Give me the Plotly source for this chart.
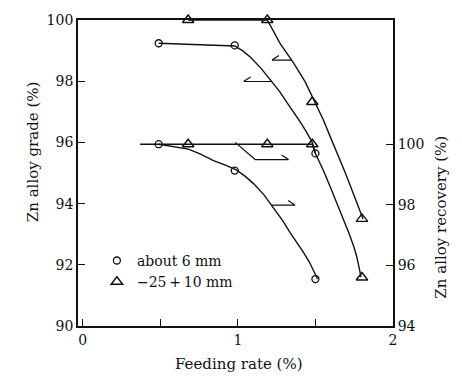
import plotly.graph_objects as go

feed_circle = [0.49, 0.98, 1.50]
grade_circle = [99.24, 99.17, 95.64]
recov_circle = [100.0, 99.13, 95.55]

feed_tri = [0.68, 1.19, 1.48, 1.80]
grade_tri = [100.0, 100.0, 97.32, 93.50]
recov_tri = [100.0, 100.0, 100.0, 95.60]

# ---- hand-drawn fitted curves ----
fit_grade_circle_x = [0.49, 0.98, 1.03, 1.08, 1.15, 1.22, 1.27, 1.317, 1.36, 1.403, 1.44, 1.478, 1.499]
fit_grade_circle_y = [99.24, 99.15, 99.00, 98.79, 98.42, 97.99, 97.66, 97.30, 97.00, 96.66, 96.36, 96.02, 95.66]

fit_grade_tri_x = [0.68, 1.19, 1.274, 1.359, 1.435, 1.499, 1.55, 1.596, 1.645, 1.693, 1.73, 1.768, 1.807]
fit_grade_tri_y = [100.0, 100.0, 99.22, 98.60, 97.97, 97.30, 96.75, 96.18, 95.60, 95.00, 94.52, 94.04, 93.50]

fit_recov_tri_x = [0.37, 0.68, 1.19, 1.48, 1.499, 1.55, 1.596, 1.64, 1.682, 1.715, 1.746, 1.765, 1.779, 1.794]
fit_recov_tri_y = [100.0, 100.0, 100.0, 100.0, 99.70, 99.15, 98.59, 98.05, 97.51, 97.08, 96.64, 96.32, 95.99, 95.61]

fit_recov_circle_x = [0.49, 0.58, 0.682, 0.76, 0.843, 0.92, 0.99, 1.05, 1.101, 1.17, 1.23, 1.29, 1.338, 1.38, 1.424, 1.46, 1.488, 1.514]
fit_recov_circle_y = [100.0, 99.92, 99.84, 99.67, 99.46, 99.31, 99.15, 98.93, 98.70, 98.32, 97.89, 97.47, 97.07, 96.76, 96.42, 96.12, 95.83, 95.55]

# axis-indicator arrows (left-axis units): path points, head at last point
arrow_paths = [
    [(1.349, 98.69), (1.22, 98.69)],
    [(1.22, 97.99), (1.037, 97.99)],
    [(0.983, 96.0), (1.112, 95.44), (1.327, 95.44)],
    [(1.22, 93.95), (1.37, 93.95)],
]

legend_names = ["about 6 mm", "\u221225\u2009+\u200910 mm"]
x_ticks = [0, 1, 2]
y_ticks = [90, 92, 94, 96, 98, 100]
y2_ticks = [94, 96, 98, 100]

FONT = "DejaVu Serif"
BLACK = "#111"

fig = go.Figure()

line_style = dict(color=BLACK, width=1.4, shape="linear")

fig.add_trace(go.Scatter(x=fit_grade_circle_x, y=fit_grade_circle_y, mode="lines",
                         line=line_style, showlegend=False, hoverinfo="skip"))
fig.add_trace(go.Scatter(x=fit_grade_tri_x, y=fit_grade_tri_y, mode="lines",
                         line=line_style, showlegend=False, hoverinfo="skip", cliponaxis=False))
fig.add_trace(go.Scatter(x=fit_recov_tri_x, y=fit_recov_tri_y, mode="lines", yaxis="y2",
                         line=line_style, showlegend=False, hoverinfo="skip"))
fig.add_trace(go.Scatter(x=fit_recov_circle_x, y=fit_recov_circle_y, mode="lines", yaxis="y2",
                         line=line_style, showlegend=False, hoverinfo="skip"))

circ = dict(symbol="circle-open", size=7, color=BLACK, line=dict(width=1.3, color=BLACK))
tri = dict(symbol="triangle-up-open", size=10, color=BLACK, line=dict(width=1.4, color=BLACK))

fig.add_trace(go.Scatter(x=feed_circle, y=grade_circle, mode="markers", marker=circ,
                         name=legend_names[0], cliponaxis=False))
fig.add_trace(go.Scatter(x=feed_tri, y=grade_tri, mode="markers", marker=tri,
                         name=legend_names[1], cliponaxis=False))
fig.add_trace(go.Scatter(x=feed_circle, y=recov_circle, mode="markers", marker=circ,
                         yaxis="y2", showlegend=False, cliponaxis=False))
fig.add_trace(go.Scatter(x=feed_tri, y=recov_tri, mode="markers", marker=tri,
                         yaxis="y2", showlegend=False, cliponaxis=False))

shapes = []
for pts in arrow_paths:
    d = "M " + " L ".join(f"{x},{y}" for x, y in pts)
    (hx, hy), (px, py) = pts[-1], pts[-2]
    direction = 1 if hx > px else -1
    d += f" M {hx},{hy} L {hx - direction * 0.045},{hy + 0.15}"
    shapes.append(dict(type="path", path=d, xref="x", yref="y",
                       line=dict(color=BLACK, width=1.2)))

fig.update_layout(
    width=462, height=380,
    margin=dict(l=78, r=69, t=14, b=54),
    paper_bgcolor="white", plot_bgcolor="white",
    font=dict(family=FONT, size=14, color=BLACK),
    shapes=shapes,
    xaxis=dict(range=[-0.03, 2.0], tickvals=x_ticks, ticks="inside", ticklen=7,
               tickwidth=1.3, tickcolor=BLACK,
               minor=dict(dtick=0.5, tick0=0, ticks="inside", ticklen=7, tickwidth=1.3, tickcolor=BLACK),
               showline=True, linecolor=BLACK, linewidth=1.8, mirror=True,
               showgrid=False, zeroline=False, tickfont=dict(size=14)),
    yaxis=dict(range=[90, 100], tickvals=y_ticks, ticks="inside", ticklen=7,
               tickwidth=1.3, tickcolor=BLACK,
               showline=True, linecolor=BLACK, linewidth=1.8,
               showgrid=False, zeroline=False, tickfont=dict(size=14)),
    yaxis2=dict(range=[94, 104.1], tickvals=y2_ticks, overlaying="y", side="right",
                ticks="inside", ticklen=7, tickwidth=1.3, tickcolor=BLACK,
                showline=True, linecolor=BLACK, linewidth=1.8,
                showgrid=False, zeroline=False, tickfont=dict(size=14)),
    legend=dict(x=0.06, y=0.265, xanchor="left", yanchor="top",
                bgcolor="rgba(0,0,0,0)", font=dict(size=14), itemwidth=30,
                tracegroupgap=0),
    annotations=[
        dict(text="Zn alloy grade (%)", xref="paper", yref="paper", x=-0.178, y=0.571,
             textangle=-90, showarrow=False, font=dict(size=15)),
        dict(text="Zn alloy recovery (%)", xref="paper", yref="paper", x=1.187, y=0.357,
             textangle=-90, showarrow=False, font=dict(size=15)),
        dict(text="Feeding rate (%)", xref="paper", yref="paper", x=0.51, y=-0.125,
             yanchor="middle", showarrow=False, font=dict(size=15)),
    ],
)

fig.write_html("out.html")
